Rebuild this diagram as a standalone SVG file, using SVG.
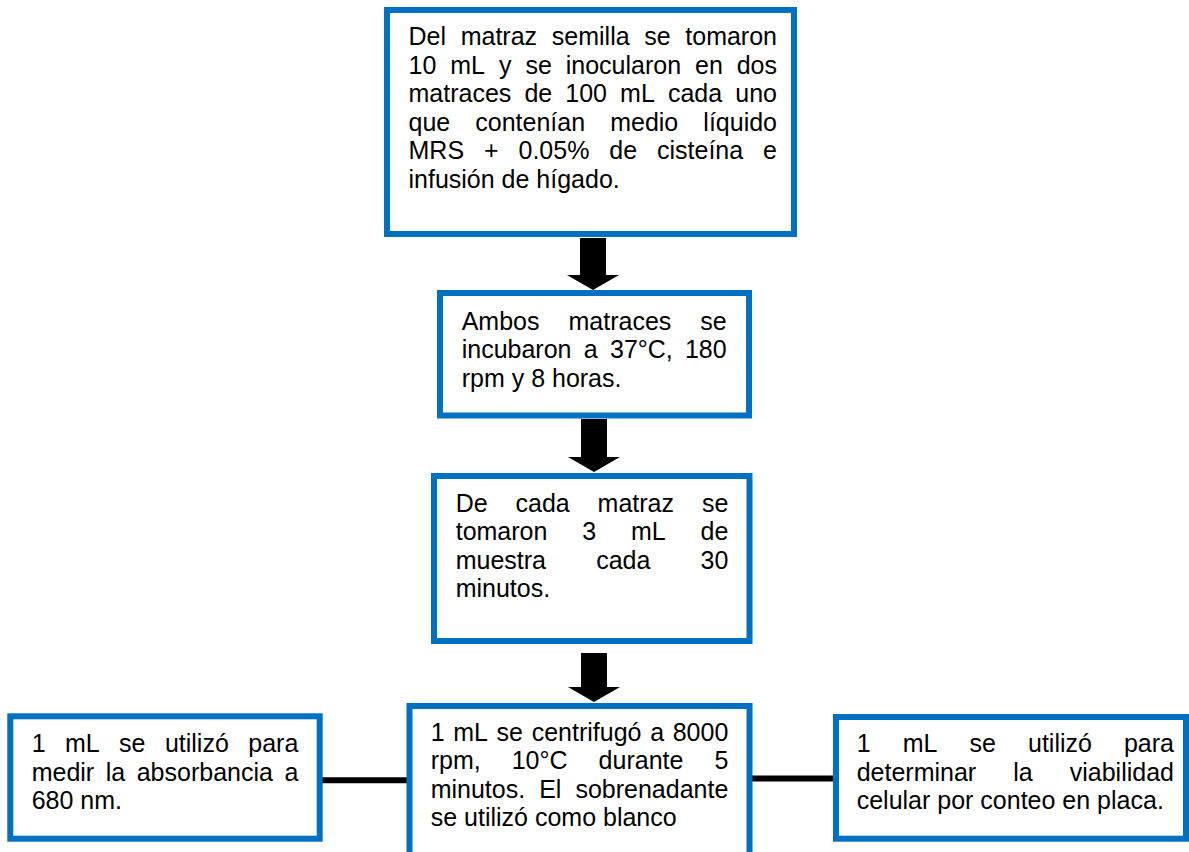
<svg xmlns="http://www.w3.org/2000/svg" width="1189" height="852" viewBox="0 0 1189 852">
  <style>
    .box { fill: #ffffff; stroke: #0070c0; stroke-width: 6; }
    .txt { font-family: "Liberation Sans", Arial, sans-serif; font-size: 25px; fill: #000000; }
    .end { text-anchor: end; }
    .arrow { fill: #000000; }
    .link { stroke: #000000; stroke-width: 6; fill: none; }
  </style>
  <rect width="1189" height="852" fill="#ffffff"/>

  <!-- connectors -->
  <g id="connectors">
    <polygon class="arrow" points="580,238 606,238 606,275 619,275 593,290 567,275 580,275"/>
    <polygon class="arrow" points="581,419 607,419 607,457 620,457 594,472 568,457 581,457"/>
    <polygon class="arrow" points="581,653 607,653 607,687 620,687 594,702 568,687 581,687"/>
    <line class="link" x1="322" y1="780.3" x2="407" y2="780.3"/>
    <line class="link" x1="752" y1="778.5" x2="834" y2="778.5"/>
  </g>

  <!-- step 1: inoculation (justified lines, one word per tspan) -->
  <g id="node-inoculo">
    <rect class="box" x="387" y="10" width="407" height="224"/>
    <text class="txt"><tspan x="408.5" y="45">Del</tspan><tspan x="460.7" y="45">matraz</tspan><tspan x="551.8" y="45">semilla</tspan><tspan x="644.3" y="45">se</tspan><tspan class="end" x="777" y="45">tomaron</tspan></text>
    <text class="txt"><tspan x="408.5" y="73.5">10</tspan><tspan x="450.3" y="73.5">mL</tspan><tspan x="498.9" y="73.5">y</tspan><tspan x="525.4" y="73.5">se</tspan><tspan x="565.7" y="73.5">inocularon</tspan><tspan x="695" y="73.5">en</tspan><tspan class="end" x="777" y="73.5">dos</tspan></text>
    <text class="txt"><tspan x="408.5" y="102">matraces</tspan><tspan x="524.4" y="102">de</tspan><tspan x="565.3" y="102">100</tspan><tspan x="620.1" y="102">mL</tspan><tspan x="667.9" y="102">cada</tspan><tspan class="end" x="777" y="102">uno</tspan></text>
    <text class="txt"><tspan x="408.5" y="130.5">que</tspan><tspan x="475.3" y="130.5">contenían</tspan><tspan x="610.2" y="130.5">medio</tspan><tspan class="end" x="777" y="130.5">líquido</tspan></text>
    <text class="txt"><tspan x="408.5" y="159">MRS</tspan><tspan x="484" y="159">+</tspan><tspan x="518.5" y="159">0.05%</tspan><tspan x="609.3" y="159">de</tspan><tspan x="657" y="159">cisteína</tspan><tspan class="end" x="777" y="159">e</tspan></text>
    <text class="txt" x="408.5" y="187.5">infusión de hígado.</text>
  </g>

  <!-- step 2: incubation -->
  <g id="node-incubacion">
    <rect class="box" x="440" y="293" width="309" height="122.5"/>
    <text class="txt"><tspan x="461.7" y="329.5">Ambos</tspan><tspan x="568.5" y="329.5">matraces</tspan><tspan class="end" x="726.7" y="329.5">se</tspan></text>
    <text class="txt"><tspan x="461.7" y="358">incubaron</tspan><tspan x="583.8" y="358">a</tspan><tspan x="610" y="358">37°C,</tspan><tspan class="end" x="726.7" y="358">180</tspan></text>
    <text class="txt" x="461.7" y="386.5">rpm y 8 horas.</text>
  </g>

  <!-- step 3: sampling -->
  <g id="node-muestreo">
    <rect class="box" x="434" y="476" width="315.5" height="165"/>
    <text class="txt"><tspan x="455.7" y="511.7">De</tspan><tspan x="515.5" y="511.7">cada</tspan><tspan x="597.6" y="511.7">matraz</tspan><tspan class="end" x="728.3" y="511.7">se</tspan></text>
    <text class="txt"><tspan x="455.7" y="540.2">tomaron</tspan><tspan x="582.2" y="540.2">3</tspan><tspan x="630.9" y="540.2">mL</tspan><tspan class="end" x="728.3" y="540.2">de</tspan></text>
    <text class="txt"><tspan x="455.7" y="568.7">muestra</tspan><tspan x="596.2" y="568.7">cada</tspan><tspan class="end" x="728.3" y="568.7">30</tspan></text>
    <text class="txt" x="455.7" y="597.2">minutos.</text>
  </g>

  <!-- step 4: centrifugation -->
  <g id="node-centrifugado">
    <rect class="box" x="409.5" y="706" width="340" height="170"/>
    <text class="txt"><tspan x="430.7" y="740.7">1</tspan><tspan x="453.3" y="740.7">mL</tspan><tspan x="496.6" y="740.7">se</tspan><tspan x="531.7" y="740.7">centrifugó</tspan><tspan x="650.2" y="740.7">a</tspan><tspan class="end" x="728.3" y="740.7">8000</tspan></text>
    <text class="txt"><tspan x="430.7" y="769.2">rpm,</tspan><tspan x="511.7" y="769.2">10°C</tspan><tspan x="598.6" y="769.2">durante</tspan><tspan class="end" x="728.3" y="769.2">5</tspan></text>
    <text class="txt"><tspan x="430.7" y="797.7">minutos.</tspan><tspan x="539.2" y="797.7">El</tspan><tspan class="end" x="728.3" y="797.7">sobrenadante</tspan></text>
    <text class="txt" x="430.7" y="826.2">se utilizó como blanco</text>
  </g>

  <!-- branch: absorbance -->
  <g id="node-absorbancia">
    <rect class="box" x="10.3" y="716.3" width="309.4" height="122.4"/>
    <text class="txt"><tspan x="31.7" y="752.3">1</tspan><tspan x="65" y="752.3">mL</tspan><tspan x="119.1" y="752.3">se</tspan><tspan x="164.9" y="752.3">utilizó</tspan><tspan class="end" x="298.3" y="752.3">para</tspan></text>
    <text class="txt"><tspan x="31.7" y="780.8">medir</tspan><tspan x="105.7" y="780.8">la</tspan><tspan x="136.7" y="780.8">absorbancia</tspan><tspan class="end" x="298.3" y="780.8">a</tspan></text>
    <text class="txt" x="31.7" y="809.3">680 nm.</text>
  </g>

  <!-- branch: plate count -->
  <g id="node-viabilidad">
    <rect class="box" x="836" y="717" width="350" height="121.7"/>
    <text class="txt"><tspan x="856.7" y="752.3">1</tspan><tspan x="902.7" y="752.3">mL</tspan><tspan x="969.5" y="752.3">se</tspan><tspan x="1028" y="752.3">utilizó</tspan><tspan class="end" x="1174" y="752.3">para</tspan></text>
    <text class="txt"><tspan x="856.7" y="780.8">determinar</tspan><tspan x="1013.3" y="780.8">la</tspan><tspan class="end" x="1174" y="780.8">viabilidad</tspan></text>
    <text class="txt" x="856.7" y="809.3">celular por conteo en placa.</text>
  </g>
</svg>
